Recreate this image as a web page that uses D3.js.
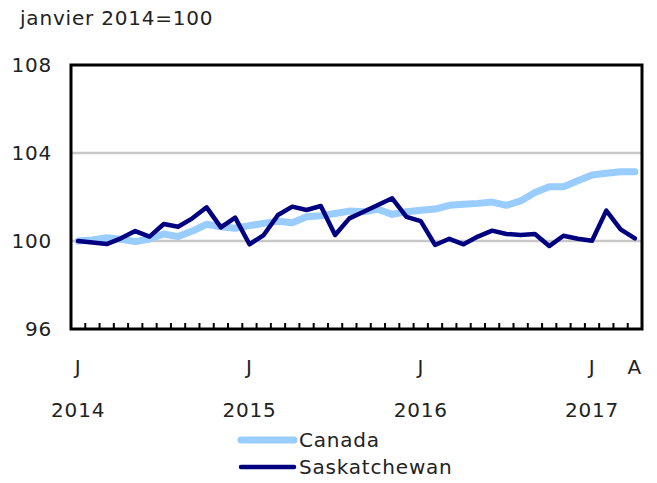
<!DOCTYPE html>
<html>
<head>
<meta charset="utf-8">
<script src="https://cdn.jsdelivr.net/npm/d3@7"></script>
<style>
    body { margin: 0; background: #fff; }
    svg text { font-family: "DejaVu Sans", Verdana, sans-serif; font-size: 20px; letter-spacing: 0.8px; fill: #222; }
</style>
</head>
<body>
<div id="chart"></div>
<script>
// monthly index, janvier 2014 to avril 2017
const canada = [
    100.0, 100.05, 100.15, 100.08, 99.97, 100.09, 100.32, 100.2, 100.45, 100.76, 100.65, 100.58,
    100.7, 100.8, 100.9, 100.83, 101.1, 101.15, 101.25, 101.36, 101.33, 101.44, 101.21, 101.33,
    101.4, 101.45, 101.62, 101.67, 101.71, 101.77, 101.62, 101.82, 102.2, 102.47, 102.47, 102.74,
    103.0, 103.08, 103.15, 103.15
];
const saskatchewan = [
    100.0, 99.93, 99.86, 100.12, 100.45, 100.2, 100.77, 100.65, 101.03, 101.53, 100.62, 101.06,
    99.85, 100.27, 101.18, 101.56, 101.41, 101.59, 100.27, 101.03, 101.33, 101.64, 101.94, 101.1,
    100.9, 99.82, 100.1, 99.85, 100.2, 100.47, 100.32, 100.27, 100.32, 99.77, 100.24, 100.1,
    100.01, 101.38, 100.53, 100.12
];
const yTicks = [96, 100, 104, 108];
const gridValues = [100, 104];
const monthLabels = [{ i: 0, t: "J" }, { i: 12, t: "J" }, { i: 24, t: "J" }, { i: 36, t: "J" }, { i: 39, t: "A" }];
const yearLabels = [{ i: 0, t: "2014" }, { i: 12, t: "2015" }, { i: 24, t: "2016" }, { i: 36, t: "2017" }];
const series = [
    { name: "Canada", values: canada, color: "#99ccff", width: 7 },
    { name: "Saskatchewan", values: saskatchewan, color: "#000080", width: 4.5 }
];

const W = 657, H = 483;
const plot = { left: 71, right: 642, top: 65, bottom: 329 };

const svg = d3.select("#chart").append("svg")
    .attr("width", W)
    .attr("height", H);

const x = d3.scaleBand()
    .domain(d3.range(canada.length))
    .range([plot.left, plot.right]);

const y = d3.scaleLinear()
    .domain([96, 108])
    .range([plot.bottom, plot.top]);

svg.append("text")
    .attr("x", 20)
    .attr("y", 25)
    .text("janvier 2014=100");

// grid
svg.selectAll(".grid")
    .data(gridValues)
    .enter()
    .append("line")
    .attr("x1", plot.left).attr("x2", plot.right)
    .attr("y1", d => y(d)).attr("y2", d => y(d))
    .attr("stroke", "#c8c8c8")
    .attr("stroke-width", 2.5);

// y labels
svg.selectAll(".ylab")
    .data(yTicks)
    .enter()
    .append("text")
    .attr("x", 52)
    .attr("y", d => y(d) + 7)
    .attr("text-anchor", "end")
    .text(d => d);

// month ticks on bottom, between months
svg.selectAll(".tick")
    .data(d3.range(1, canada.length))
    .enter()
    .append("line")
    .attr("x1", d => x(d)).attr("x2", d => x(d))
    .attr("y1", plot.bottom).attr("y2", plot.bottom - 6)
    .attr("stroke", "#000")
    .attr("stroke-width", 2);

const line = d3.line()
    .x((d, i) => x(i) + x.bandwidth() / 2)
    .y(d => y(d));

series.forEach(s => {
    svg.append("path")
        .datum(s.values)
        .attr("fill", "none")
        .attr("stroke", s.color)
        .attr("stroke-width", s.width)
        .attr("stroke-linejoin", "round")
        .attr("stroke-linecap", "round")
        .attr("d", line);
});

// frame
svg.append("rect")
    .attr("x", plot.left).attr("y", plot.top)
    .attr("width", plot.right - plot.left).attr("height", plot.bottom - plot.top)
    .attr("fill", "none")
    .attr("stroke", "#000")
    .attr("stroke-width", 3);

svg.selectAll(".mlab")
    .data(monthLabels)
    .enter()
    .append("text")
    .attr("x", d => x(d.i) + x.bandwidth() / 2)
    .attr("y", 374)
    .attr("text-anchor", "middle")
    .text(d => d.t);

svg.selectAll(".yrlab")
    .data(yearLabels)
    .enter()
    .append("text")
    .attr("x", d => x(d.i) + x.bandwidth() / 2)
    .attr("y", 417)
    .attr("text-anchor", "middle")
    .text(d => d.t);

// legend
const legend = svg.selectAll(".legend")
    .data(series)
    .enter()
    .append("g")
    .attr("transform", (d, i) => `translate(0,${440 + i * 27})`);

legend.append("line")
    .attr("x1", 241).attr("x2", 294)
    .attr("stroke", d => d.color)
    .attr("stroke-width", d => d.width)
    .attr("stroke-linecap", "round");

legend.append("text")
    .attr("x", 299)
    .attr("y", 7)
    .text(d => d.name);
</script>
</body>
</html>
